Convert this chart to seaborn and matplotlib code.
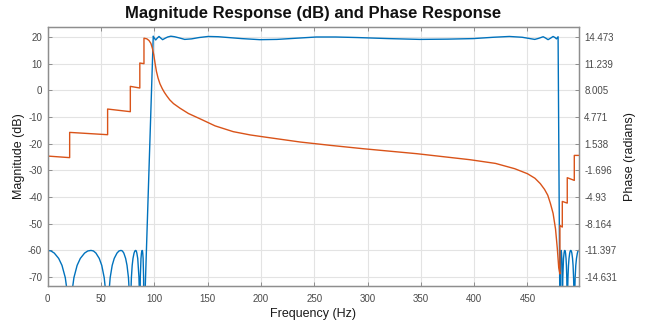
import numpy as np
import pandas as pd
import matplotlib
matplotlib.use("Agg")
import matplotlib.pyplot as plt
import seaborn as sns

# ---------------- data ----------------
# lower stop band: frequency (Hz) / magnitude (dB)
stop_low_hz = [0, 3.1, 6.2, 10.3, 13.4, 16.5, 18.5, 20.6,
               22.6, 24.6, 27.6, 30.6, 34.6, 37.6, 40.6, 42.9, 45.25, 48.35, 50.7, 53.0, 54.55, 56.1,
               57.4, 58.6, 60.5, 62.4, 65.0, 66.9, 68.75, 70.06, 71.4, 73.1, 74.4, 75.75, 76.6, 77.5,
               78.0, 78.5, 79.25, 80.0, 81.0, 81.75, 82.5, 83.1, 83.6, 84.45, 84.9, 85.6, 86.0, 86.4,
               86.85, 87.2, 87.5, 87.95, 88.3, 88.6, 88.9, 89.15, 89.5, 89.95, 90.2]
stop_low_db = [-60.0, -60.2, -61.0, -63.0, -65.6, -70.2, -76.1, -95,
               -76.1, -70.2, -65.6, -63.0, -61.0, -60.2, -60.0, -60.2, -61.0, -63.0, -65.6, -70.2, -76.1, -95,
               -76.1, -70.2, -65.6, -63.0, -61.0, -60.2, -60.0, -60.2, -61.0, -63.0, -65.6, -70.2, -76.1, -95,
               -76.1, -70.2, -65.6, -63.0, -61.0, -60.2, -60.0, -60.2, -61.0, -63.0, -65.6, -70.2, -76.1, -95,
               -70.2, -65.6, -63.0, -61.0, -60.2, -60.0, -60.2, -61.0, -63.0, -70.2, -90]

# pass band
pass_hz = [99.0, 100.0, 101.3, 102.8, 104.4, 106.0, 107.8, 110.0, 112.5, 115.5, 119.0,
           123.0, 128.5, 135.0, 142.0, 150.5, 160.0, 170.0, 182.0, 199.0, 215.0, 232.0,
           252.0, 270.0, 290.0, 320.0, 349.0, 375.0, 399.0, 418.0, 433.0, 445.0, 451.0,
           456.8, 460.5, 464.7, 467.0, 469.3, 471.8, 474.0, 475.8, 477.2, 478.2, 478.7]
pass_db = [20.3, 19.6, 18.9, 19.6, 20.2, 19.6, 19.0, 19.5, 20.0, 20.3, 20.1,
           19.7, 19.1, 19.3, 19.8, 20.2, 20.1, 19.8, 19.4, 19.0, 19.1, 19.5,
           20.0, 20.0, 19.8, 19.4, 19.1, 19.2, 19.4, 19.9, 20.2, 19.9, 19.5,
           19.1, 19.5, 20.1, 19.6, 19.0, 19.6, 20.2, 19.8, 19.3, 19.8, 20.1]

# upper stop band
stop_high_hz = [480.5, 480.75, 481.0, 481.3, 481.6, 481.9, 482.2, 482.45, 482.65,
                482.9, 483.1, 483.5, 483.8, 484.3, 484.65, 485.0, 485.35, 485.7, 486.15, 486.5, 486.85, 487.07, 487.3,
                487.63, 487.96, 488.45, 488.95, 489.6, 490.1, 490.6, 491.1, 491.6, 492.25, 492.75, 493.24, 493.57, 493.9,
                494.3, 494.7, 495.3, 495.95, 496.8, 497.4, 498.0]
stop_high_db = [-90, -70.2, -63.0, -60.8, -60.0, -60.8, -63.0, -70.2, -90,
                -76.1, -70.2, -65.6, -63.0, -61.0, -60.2, -60.0, -60.2, -61.0, -63.0, -65.6, -70.2, -76.1, -90,
                -76.1, -70.2, -65.6, -63.0, -61.0, -60.2, -60.0, -60.2, -61.0, -63.0, -65.6, -70.2, -76.1, -90,
                -76.1, -70.2, -65.6, -63.0, -61.0, -60.2, -60.0]

# phase response (radians)
phase_hz = [0, 20.6, 20.6, 56.2, 56.2, 77.5, 77.5, 86.4, 86.4, 90.3, 90.3,
            93.0, 95.0, 96.8, 98.2, 99.5, 100.7, 102.0, 103.5, 105.3, 107.5, 109.5,
            111.6, 114.5, 118.0, 124.0, 132.0, 143.0, 157.0, 174.0, 190.0, 205.0,
            237.0, 265.0, 296.0, 346.0, 396.0, 420.0, 438.0, 450.0, 457.0, 462.0,
            466.0, 469.0, 471.5, 474.0, 476.3, 478.0, 479.3, 480.4, 480.4, 482.65,
            482.65, 487.3, 487.3, 493.9, 493.9, 498.0]
phase_rad = [0.04, -0.15, 2.91, 2.63, 5.74, 5.42, 8.49, 8.29, 11.32, 11.24, 14.33,
             14.25, 14.05, 13.7, 13.1, 12.3, 11.3, 10.3, 9.5, 8.8, 8.2, 7.75,
             7.35, 6.85, 6.4, 5.85, 5.2, 4.55, 3.7, 3.0, 2.6, 2.32,
             1.74, 1.34, 0.93, 0.33, -0.40, -0.85, -1.49, -2.1, -2.65, -3.3,
             -4.0, -4.7, -5.7, -6.9, -8.8, -11.2, -13.5, -14.25, -8.37, -8.57,
             -5.46, -5.66, -2.58, -2.91, 0.12, 0.12]

mag_ticks = [20, 10, 0, -10, -20, -30, -40, -50, -60, -70]
phase_tick_labels = ["14.473", "11.239", "8.005", "4.771", "1.538", "-1.696",
                     "-4.93", "-8.164", "-11.397", "-14.631"]
freq_ticks = [0, 50, 100, 150, 200, 250, 300, 350, 400, 450]

# ---------------- plotting ----------------
sns.set_theme(style="white")
plt.rcParams['font.family'] = ['Liberation Sans', 'DejaVu Sans']
plt.rcParams['axes.unicode_minus'] = False

mag_df = pd.DataFrame({
    "f": stop_low_hz + pass_hz + stop_high_hz,
    "db": stop_low_db + pass_db + stop_high_db,
})
ph_df = pd.DataFrame({"f": phase_hz, "ph": phase_rad})

fig = plt.figure(figsize=(6.48, 3.23), dpi=100)
ax = fig.add_axes([0.0736, 0.1146, 0.893 - 0.0736, 0.917 - 0.1146])

blue = "#0072BD"
orange = "#D95319"
spine_c = "#8e8e8e"
lab_c = "#4a4a4a"

sns.lineplot(data=mag_df, x="f", y="db", ax=ax, sort=False, estimator=None,
             color=blue, linewidth=1.0)

ylo, yhi = -73.33, 23.82
ax.set_xlim(0, 498)
ax.set_ylim(ylo, yhi)
ax.set_xticks(freq_ticks)
ax.set_yticks(mag_ticks)
ax.grid(True, color="#e3e3e3", linewidth=0.8)
ax.set_axisbelow(True)

# phase axis: tick values aligned with the magnitude grid
pvals = [float(s) for s in phase_tick_labels]
slope = (pvals[0] - pvals[-1]) / (mag_ticks[0] - mag_ticks[-1])
offs = pvals[0] - slope * mag_ticks[0]
ax2 = ax.twinx()
sns.lineplot(data=ph_df, x="f", y="ph", ax=ax2, sort=False, estimator=None,
             color=orange, linewidth=1.0)
ax2.set_ylim(slope * ylo + offs, slope * yhi + offs)
ax2.set_yticks(pvals)
ax2.set_yticklabels(phase_tick_labels)
ax2.set_xlim(0, 498)

for a in (ax, ax2):
    for s in a.spines.values():
        s.set_color(spine_c)
        s.set_linewidth(0.9)
    a.tick_params(direction="in", length=3, width=0.7, color=spine_c,
                  labelsize=7, labelcolor=lab_c, pad=4)
ax.tick_params(top=True, right=False, left=True, bottom=True)
ax.tick_params(axis="x", pad=5.5)
ax2.tick_params(right=True, left=False)

ax.set_xlabel("Frequency (Hz)", fontsize=9, color="#1a1a1a", labelpad=3)
ax.set_ylabel("Magnitude (dB)", fontsize=9, color="#1a1a1a", labelpad=2)
ax2.set_ylabel("Phase (radians)", fontsize=9, color="#1a1a1a", labelpad=5)
ax.set_title("Magnitude Response (dB) and Phase Response", fontsize=12,
             fontweight="bold", color="#111111", pad=6)

fig.savefig("out.png", dpi=100)
